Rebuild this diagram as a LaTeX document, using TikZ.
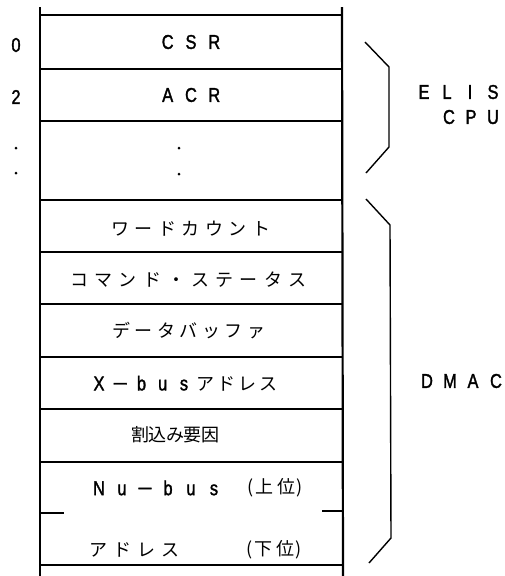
\documentclass[tikz,border=0pt]{standalone}
\usepackage{fontspec}
\usepackage{graphicx}
\newfontfamily\lat[FakeStretch=0.82,FakeBold=1.6]{Liberation Sans}
\newfontfamily\jp{Noto Sans CJK JP}
\makeatletter
\def\mono@end{}
\newcommand\mono[2]{\def\mono@w{#1}\mono@loop#2\mono@end}
\def\mono@loop#1{\ifx#1\mono@end\else\makebox[\mono@w][c]{#1}\expandafter\mono@loop\fi}
\makeatother
\newcommand\latf{\lat\fontsize{20}{20}\selectfont}
\newcommand\jpf{\jp\fontsize{18}{18}\selectfont}
\newcommand\wminus{\scalebox{1.6}[1]{−}}
\begin{document}
\begin{tikzpicture}[x=1pt,y=-1pt,
  frame/.style={line width=2.2pt},
  rowline/.style={line width=1.8pt},
  brace/.style={line width=1.4pt, line join=miter},
  lab/.style={inner sep=0pt, anchor=center},
  dotmark/.style={circle, fill=black, inner sep=0pt, minimum size=3pt}]
\useasboundingbox (0,0) rectangle (505,576);
% frame
\coordinate (lt) at (40,7); \coordinate (lb) at (40,576);
\coordinate (rt) at (342,7); \coordinate (rb) at (343,576);
\draw[frame] (lt) -- (lb);
\draw[frame] (rt) -- (rb);
\foreach \y in {15,69,121,200,252,304,357,409,462,565}
  \draw[rowline] (40,\y) -- (342,\y);
% split ticks
\coordinate (tl1) at (40,513); \coordinate (tl2) at (64,513);
\coordinate (tr1) at (322,511); \coordinate (tr2) at (342,511);
\draw[rowline] (tl1) -- (tl2);
\draw[rowline] (tr1) -- (tr2);
% addresses
\node[lab] (a0) at (16,45) {\latf 0};
\node[lab] (a2) at (16,97) {\latf 2};
\node[dotmark] (d1) at (16,148) {};
\node[dotmark] (d2) at (16,173) {};
\node[dotmark] (d3) at (179,148) {};
\node[dotmark] (d4) at (179,174) {};
% rows
\node[lab] (csr) at (191,42) {\latf\mono{23.3pt}{CSR}};
\node[lab] (acr) at (191,95) {\latf\mono{23.3pt}{ACR}};
\node[lab] (wc) at (191,229) {\jpf\mono{23.5pt}{ワードカウント}};
\node[lab] (cs) at (188.5,280) {\jpf\mono{24.2pt}{コマンド・ステータス}};
\node[lab] (db) at (189,331) {\jpf\mono{22.5pt}{データバッファ}};
\node[lab] (xb) at (184,383.5) {\makebox[106.25pt][l]{\latf\mono{21.25pt}{X\wminus bus}}\jpf\mono{21.25pt}{アドレス}};
\node[lab] (int) at (175,435) {\jpf\mono{17.5pt}{割込み要因}};
\node[lab] (nu) at (156.5,488) {\latf\mono{23pt}{Nu\wminus bus}};
\node[lab] (up) at (275,488) {\jpf(\hspace{2pt}上\hspace{4pt}位\hspace{1pt})};
\node[lab] (ad) at (134.5,550) {\jpf\mono{24.3pt}{アドレス}};
\node[lab] (lo) at (274,550) {\jpf(\hspace{2pt}下\hspace{4pt}位\hspace{1pt})};
% braces
\coordinate (b1a) at (365,42); \coordinate (b1b) at (389,67);
\coordinate (b1c) at (389,147); \coordinate (b1d) at (366,173);
\draw[brace] (b1a) -- (b1b) -- (b1c) -- (b1d);
\coordinate (b2a) at (366,199); \coordinate (b2b) at (390,225);
\coordinate (b2c) at (391,538); \coordinate (b2d) at (369,563);
\draw[brace] (b2a) -- (b2b) -- (b2c) -- (b2d);
% groups
\node[lab] (elis) at (458.5,92) {\latf\mono{23pt}{ELIS}};
\node[lab] (cpu) at (471,117) {\latf\mono{22pt}{CPU}};
\node[lab] (dmac) at (461.5,381) {\latf\mono{23pt}{DMAC}};
\end{tikzpicture}
\end{document}
